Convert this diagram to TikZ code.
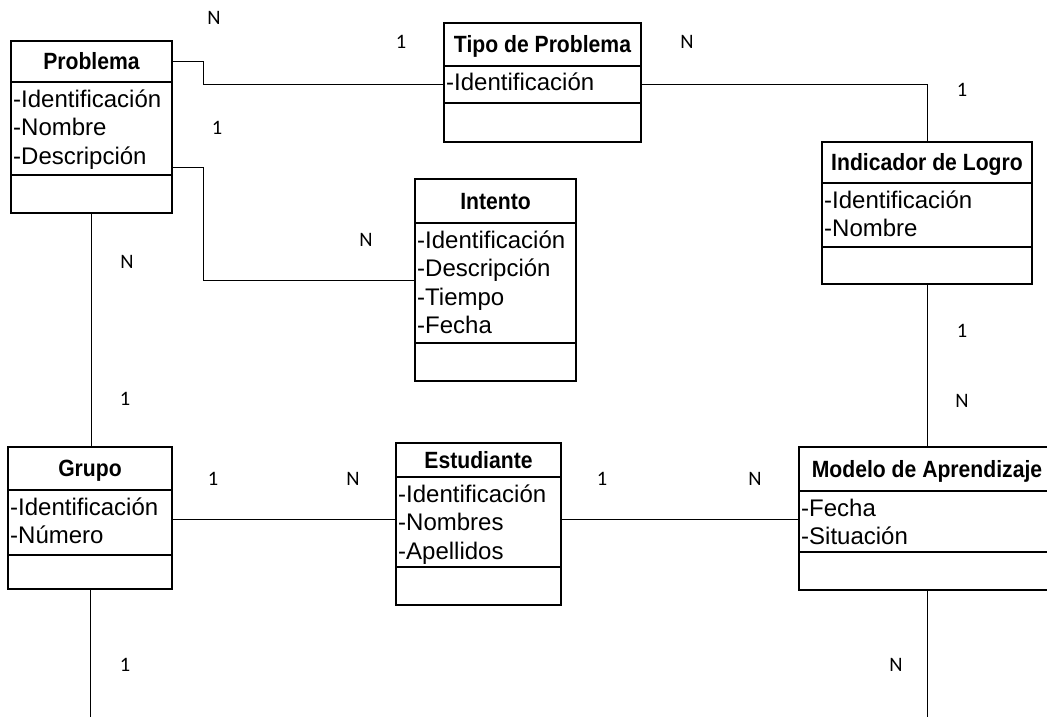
\documentclass[tikz,border=0pt]{standalone}
\usepackage{fontspec}
\setmainfont{Liberation Sans}
\newfontfamily\titlefont[FakeStretch=0.9]{Liberation Sans}
\newfontfamily\cardfont{Carlito}
\usetikzlibrary{calc}

% A class box: name, left, right, top, header bottom, attribute bottom, bottom, title, attributes
\newcommand\umlclass[9]{%
  \pgfmathsetmacro\cw{#3-#2}%
  \pgfmathsetmacro\hh{#5-#4}%
  \pgfmathsetmacro\ah{#6-#5}%
  \pgfmathsetmacro\oh{#7-#6}%
  \node[part, minimum width=\cw pt, minimum height=\hh pt] (#1-h) at (#2,#4) {};
  \node[part, minimum width=\cw pt, minimum height=\ah pt] (#1-a) at (#2,#5) {};
  \node[part, minimum width=\cw pt, minimum height=\oh pt] (#1-o) at (#2,#6) {};
  \node[classtitle] (#1-t) at ([yshift=-8pt]#1-h.center) {#8};
  \foreach \attrtext [count=\k] in {#9} {
    \pgfmathsetmacro\dy{25+(\k-1)*28.5}
    \node[attr] (#1-a\k) at ([xshift=2pt,yshift=-\dy pt]#1-a.north west) {\attrtext};
  }%
}

\begin{document}
\begin{tikzpicture}[x=1pt,y=-1pt,
  part/.style={draw, line width=1.8pt, inner sep=0pt, outer sep=0pt, anchor=north west},
  classtitle/.style={font=\titlefont\fontsize{23.5}{26}\selectfont\bfseries, inner sep=0pt, anchor=base},
  attr/.style={font=\fontsize{24}{28}\selectfont, inner sep=0pt, anchor=base west},
  card/.style={font=\cardfont\fontsize{20.5}{22}\selectfont, inner sep=0pt},
  link/.style={line width=1pt}]

\useasboundingbox (0,0) rectangle (1047,717);
\fill[white] (0,0) rectangle (1047,717);
\clip (0,0) rectangle (1047,717);

% classes
\umlclass{prob}{11}{172}{41}{82}{175}{213}{Problema}{-Identificación,-Nombre,-Descripción}
\umlclass{tipo}{444}{641}{23}{66}{103}{142}{Tipo de Problema}{-Identificación}
\umlclass{ind}{822}{1032}{142}{183}{247}{284}{Indicador de Logro}{-Identificación,-Nombre}
\umlclass{int}{415}{576}{179}{223}{343}{381}{Intento}{-Identificación,-Descripción,-Tiempo,-Fecha}
\umlclass{grp}{8}{172}{447}{490}{555}{589}{Grupo}{-Identificación,-Número}
\umlclass{est}{396}{561}{443}{477}{567}{605}{Estudiante}{-Identificación,-Nombres,-Apellidos}
\umlclass{mod}{799}{1055}{447}{491}{552}{590}{Modelo de Aprendizaje}{-Fecha,-Situación}

% relationships
\coordinate (bot) at (0,720);
\draw[link] (prob-h.east) -- ++(31,0) |- (tipo-a.west);
\draw[link] (tipo-a.east) -| (ind-h.north);
\draw[link] ([yshift=8pt]prob-a.south east) -- ++(31,0) |- ([yshift=3pt]int-a.west);
\draw[link] (ind-o.south) -- (mod-h.north);
\draw[link] (prob-o.south) -- (prob-o.south |- grp-h.north);
\draw[link] ([yshift=3pt]grp-a.east) -- ([yshift=3pt]grp-a.east -| est-a.west);
\draw[link] ([yshift=3pt]est-a.east) -- ([yshift=3pt]est-a.east -| mod-a.west);
\draw[link] (grp-o.south) -- (grp-o.south |- bot);
\draw[link] (mod-o.south) -- (mod-o.south |- bot);

% cardinalities
\node[card] (c1)  at (214,18)  {N};
\node[card] (c2)  at (401,42)  {1};
\node[card] (c3)  at (687,42)  {N};
\node[card] (c4)  at (962,90)  {1};
\node[card] (c5)  at (217,128) {1};
\node[card] (c6)  at (366,240) {N};
\node[card] (c7)  at (127,262) {N};
\node[card] (c8)  at (962,331) {1};
\node[card] (c9)  at (125,399) {1};
\node[card] (c10) at (962,401) {N};
\node[card] (c11) at (213,479) {1};
\node[card] (c12) at (353,479) {N};
\node[card] (c13) at (602,479) {1};
\node[card] (c14) at (755,479) {N};
\node[card] (c15) at (125,665) {1};
\node[card] (c16) at (896,665) {N};
\end{tikzpicture}
\end{document}
